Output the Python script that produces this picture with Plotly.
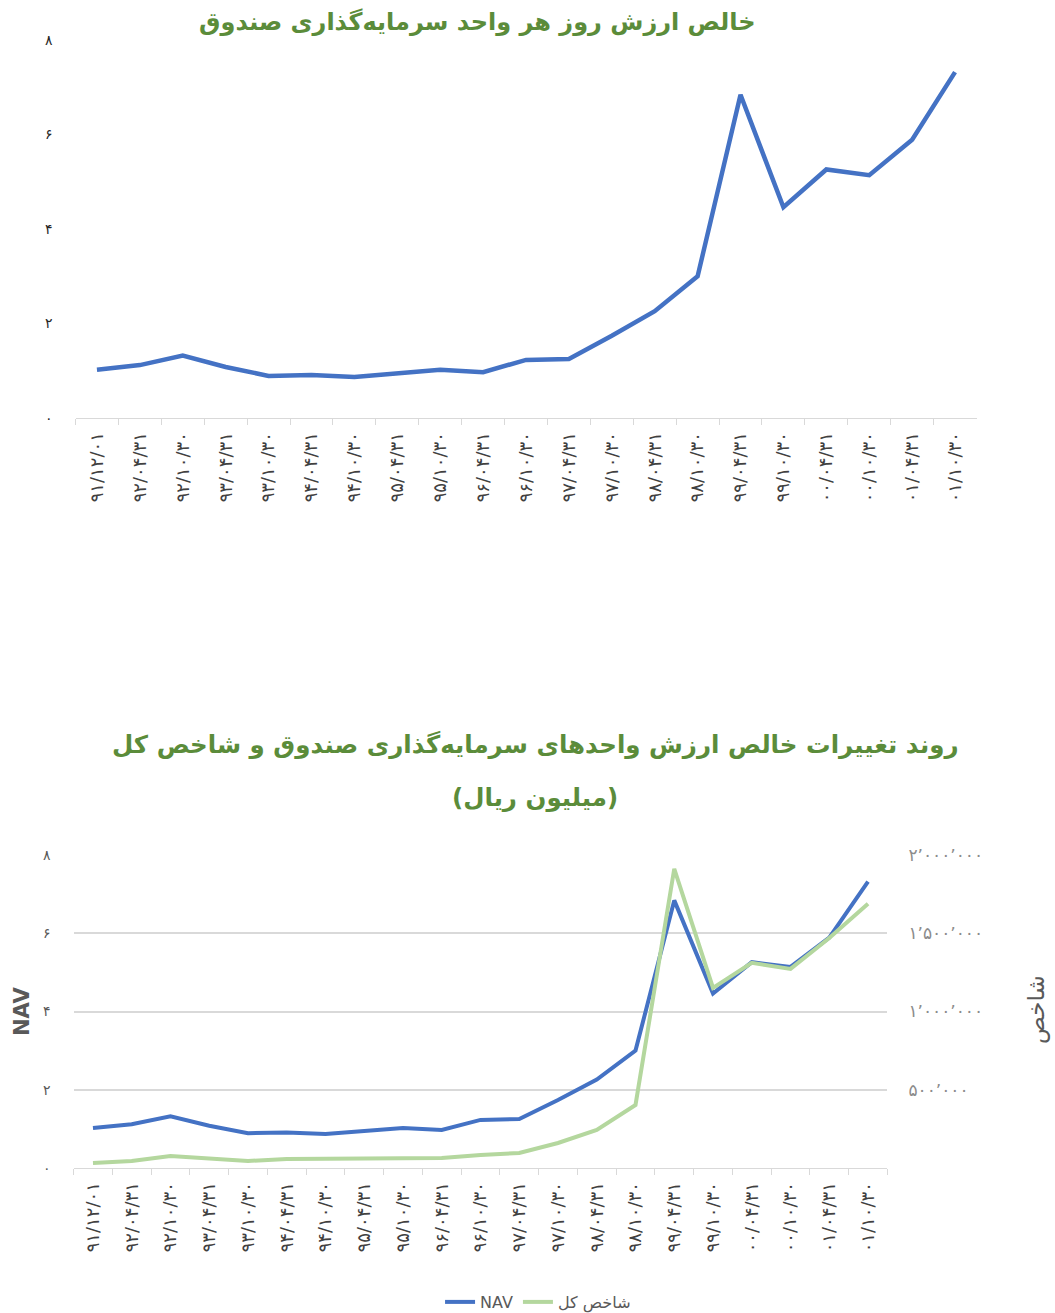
import plotly.graph_objects as go

W, H = 1055, 1313

dates = ["۹۱/۱۲/۰۱", "۹۲/۰۴/۳۱", "۹۲/۱۰/۳۰", "۹۳/۰۴/۳۱", "۹۳/۱۰/۳۰", "۹۴/۰۴/۳۱",
         "۹۴/۱۰/۳۰", "۹۵/۰۴/۳۱", "۹۵/۱۰/۳۰", "۹۶/۰۴/۳۱", "۹۶/۱۰/۳۰", "۹۷/۰۴/۳۱",
         "۹۷/۱۰/۳۰", "۹۸/۰۴/۳۱", "۹۸/۱۰/۳۰", "۹۹/۰۴/۳۱", "۹۹/۱۰/۳۰", "۰۰/۰۴/۳۱",
         "۰۰/۱۰/۳۰", "۰۱/۰۴/۳۱", "۰۱/۱۰/۳۰"]

nav = [1.02, 1.12, 1.32, 1.08, 0.89, 0.91, 0.87, 0.95, 1.02, 0.97, 1.23, 1.25,
       1.74, 2.26, 3.00, 6.84, 4.46, 5.26, 5.14, 5.89, 7.32]

index_total = [32000, 45000, 77000, 64000, 45000, 58000, 58000, 64000, 64000, 64000,
               83000, 96000, 160000, 243000, 403000, 1912000, 1151000, 1311000,
               1272000, 1470000, 1688000]

nav_ticks = [0, 2, 4, 6, 8]
nav_ticktext = ["۰", "۲", "۴", "۶", "۸"]
idx_ticks = [500000, 1000000, 1500000, 2000000]
idx_ticktext = ["۵۰۰٬۰۰۰", "۱٬۰۰۰٬۰۰۰", "۱٬۵۰۰٬۰۰۰", "۲٬۰۰۰٬۰۰۰"]

title_top = "خالص ارزش روز هر واحد سرمایه‌گذاری صندوق"
title_bottom_1 = "روند تغییرات خالص ارزش واحدهای سرمایه‌گذاری صندوق و شاخص کل"
title_bottom_2 = "(میلیون ریال)"

BLUE = "#4472C4"
GREEN = "#B4D79E"
TITLE_GREEN = "#5B8C3A"
FONT = "DejaVu Sans"


def px_x(p):
    return p / W


def px_y(p):
    return 1 - p / H


fig = go.Figure()

fig.add_trace(go.Scatter(x=dates, y=nav, mode="lines", xaxis="x", yaxis="y",
                         line=dict(color=BLUE, width=4.5), showlegend=False))
fig.add_trace(go.Scatter(x=dates, y=nav, mode="lines", xaxis="x2", yaxis="y2",
                         name="NAV", line=dict(color=BLUE, width=4)))
fig.add_trace(go.Scatter(x=dates, y=index_total, mode="lines", xaxis="x2", yaxis="y3",
                         name="شاخص کل", line=dict(color=GREEN, width=4)))

n = len(dates)
xaxis_common = dict(type="category", categoryorder="array", categoryarray=dates,
                    range=[-0.5, n - 0.5], automargin=False,
                    tickangle=-90, tickson="boundaries", ticks="outside", ticklen=6,
                    tickcolor="#D9D9D9", showline=True, linecolor="#D9D9D9", linewidth=1,
                    showgrid=False, zeroline=False, ticklabelstandoff=6,
                    tickfont=dict(family=FONT, size=18, color="#404040"), fixedrange=True)

fig.update_layout(
    width=W, height=H,
    margin=dict(l=0, r=0, t=0, b=0, autoexpand=False),
    paper_bgcolor="white", plot_bgcolor="white",
    font=dict(family=FONT),
    xaxis=dict(domain=[px_x(75.5), px_x(976.5)], anchor="y", **xaxis_common),
    yaxis=dict(domain=[px_y(418), px_y(40)], anchor="x", range=[0, 8], automargin=False,
               tickvals=nav_ticks, ticktext=nav_ticktext, showgrid=False, zeroline=False,
               showline=False, ticklabelstandoff=22, fixedrange=True,
               tickfont=dict(family=FONT, size=14, color="#262626")),
    xaxis2=dict(domain=[px_x(73.6), px_x(887.4)], anchor="y2", **xaxis_common),
    yaxis2=dict(domain=[px_y(1168), px_y(855)], anchor="x2", range=[0, 8], automargin=False,
                tickvals=nav_ticks, ticktext=nav_ticktext, showgrid=True,
                gridcolor="#D9D9D9", gridwidth=1.5, zeroline=False, showline=False,
                ticklabelstandoff=22, fixedrange=True,
                tickfont=dict(family=FONT, size=14, color="#595959")),
    yaxis3=dict(overlaying="y2", side="right", anchor="x2", range=[0, 2000000],
                automargin=False, fixedrange=True,
                tickvals=idx_ticks, ticktext=idx_ticktext, showgrid=False,
                zeroline=False, showline=False, ticklabelstandoff=20,
                tickfont=dict(family=FONT, size=17, color="#8C8C8C")),
    legend=dict(orientation="h", x=0.51, xanchor="center", y=px_y(1302), yanchor="middle",
                font=dict(family=FONT, size=16, color="#595959"),
                traceorder="normal"),
    annotations=[
        dict(text="<b>" + title_top + "</b>", x=px_x(477), y=px_y(22), xref="paper",
             yref="paper", showarrow=False, xanchor="center", yanchor="middle",
             font=dict(family=FONT, size=24, color=TITLE_GREEN)),
        dict(text="<b>" + title_bottom_1 + "</b>", x=px_x(535), y=px_y(745), xref="paper",
             yref="paper", showarrow=False, xanchor="center", yanchor="middle",
             font=dict(family=FONT, size=24.5, color=TITLE_GREEN)),
        dict(text="<b>" + title_bottom_2 + "</b>", x=px_x(535), y=px_y(797), xref="paper",
             yref="paper", showarrow=False, xanchor="center", yanchor="middle",
             font=dict(family=FONT, size=24.5, color=TITLE_GREEN)),
        dict(text="<b>NAV</b>", x=px_x(22), y=px_y(1012), xref="paper", yref="paper",
             showarrow=False, textangle=-90, xanchor="center", yanchor="middle",
             font=dict(family=FONT, size=21, color="#595959")),
        dict(text="شاخص", x=px_x(1036), y=px_y(1010), xref="paper", yref="paper",
             showarrow=False, textangle=-90, xanchor="center", yanchor="middle",
             font=dict(family=FONT, size=23, color="#595959")),
    ],
)

fig.write_html("out.html", config={"displayModeBar": False},
               post_script="document.body.style.margin='0';document.body.style.overflow='hidden';")
